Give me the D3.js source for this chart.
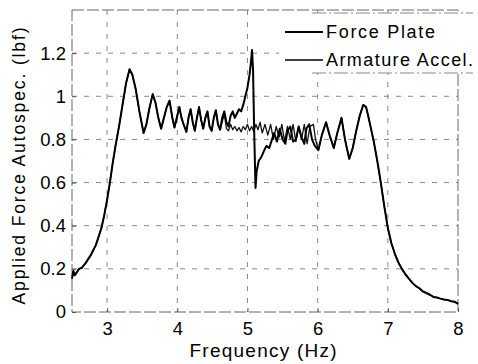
<!DOCTYPE html>
<html>
<head>
<meta charset="utf-8">
<script src="https://cdn.jsdelivr.net/npm/d3@7"></script>
<style>
  html, body { margin: 0; padding: 0; background: #fff; overflow: hidden; }
  svg { display: block; }
  text { font-family: "Liberation Sans", Arial, sans-serif; fill: #000; }
</style>
</head>
<body>
<svg id="chart"></svg>
<script>
// Tick values
const xTicks = [3, 4, 5, 6, 7, 8];
const yTicks = [0, 0.2, 0.4, 0.6, 0.8, 1, 1.2];
const yTickLabels = ["0", "0.2", "0.4", "0.6", "0.8", "1", "1.2"];

// Both curves run together up to about 4.6 Hz
const commonFreq = [2.5, 2.52, 2.54, 2.57, 2.6, 2.64, 2.69, 2.73, 2.77, 2.8, 2.84, 2.88, 2.92, 2.96,
  3.0, 3.04, 3.08, 3.12, 3.17, 3.22, 3.27, 3.32, 3.36, 3.41, 3.46, 3.52, 3.56, 3.6, 3.65, 3.69,
  3.73, 3.77, 3.81, 3.85, 3.89, 3.93, 3.96, 4.0, 4.03, 4.06, 4.09, 4.13, 4.16, 4.19, 4.22, 4.25,
  4.28, 4.31, 4.34, 4.37, 4.4, 4.43, 4.46, 4.49, 4.52, 4.55, 4.58, 4.61];
const commonVals = [0.155, 0.19, 0.17, 0.185, 0.2, 0.205, 0.225, 0.245, 0.265, 0.285, 0.31, 0.35, 0.39, 0.45,
  0.52, 0.6, 0.69, 0.77, 0.86, 0.96, 1.06, 1.125, 1.1, 1.03, 0.93, 0.83, 0.87, 0.94, 1.01, 0.97,
  0.9, 0.85, 0.9, 0.95, 0.98, 0.9, 0.855, 0.91, 0.95, 0.9, 0.87, 0.835, 0.9, 0.94, 0.88, 0.84,
  0.9, 0.95, 0.89, 0.85, 0.9, 0.93, 0.86, 0.84, 0.9, 0.935, 0.87, 0.845];

// Force plate between 4.6 and 6 Hz (spike and dip near 5.1 Hz)
const plateFreq = [4.64, 4.67, 4.7, 4.73, 4.76, 4.79, 4.82, 4.85, 4.88, 4.91, 4.94, 4.97, 5.0, 5.03,
  5.05, 5.065, 5.08, 5.095, 5.115, 5.13, 5.16, 5.2, 5.24, 5.27, 5.31, 5.35, 5.38, 5.42, 5.46, 5.5,
  5.54, 5.57, 5.61, 5.65, 5.69, 5.73, 5.77, 5.81, 5.84, 5.88, 5.92, 5.96];
const plateVals = [0.9, 0.93, 0.88, 0.86, 0.91, 0.93, 0.9, 0.92, 0.94, 0.93, 0.96, 1.0, 1.04, 1.1,
  1.16, 1.215, 1.12, 0.85, 0.575, 0.65, 0.7, 0.72, 0.75, 0.77, 0.76, 0.8, 0.83, 0.79, 0.85, 0.8,
  0.78, 0.84, 0.86, 0.79, 0.8, 0.86, 0.81, 0.78, 0.85, 0.87, 0.8, 0.77];

// Armature acceleration between 4.6 and 6 Hz
const accelFreq = [4.64, 4.67, 4.7, 4.73, 4.76, 4.79, 4.82, 4.85, 4.88, 4.91, 4.94, 4.97, 5.0, 5.03,
  5.06, 5.09, 5.12, 5.15, 5.18, 5.21, 5.25, 5.29, 5.33, 5.37, 5.41, 5.45, 5.49, 5.53, 5.57, 5.61,
  5.65, 5.69, 5.73, 5.77, 5.81, 5.85, 5.89, 5.94, 5.97];
const accelVals = [0.88, 0.92, 0.85, 0.84, 0.87, 0.845, 0.86, 0.84, 0.855, 0.835, 0.86, 0.845, 0.87, 0.84,
  0.86, 0.835, 0.87, 0.845, 0.88, 0.83, 0.87, 0.82, 0.87, 0.8, 0.86, 0.81, 0.87, 0.79, 0.86, 0.8,
  0.87, 0.79, 0.86, 0.8, 0.87, 0.78, 0.86, 0.87, 0.8];

// Both curves again from 6 Hz to the end
const tailFreq = [6.01, 6.06, 6.12, 6.17, 6.23, 6.28, 6.34, 6.39, 6.45, 6.5, 6.55, 6.6, 6.65, 6.69,
  6.72, 6.76, 6.8, 6.85, 6.9, 6.95, 7.0, 7.05, 7.1, 7.15, 7.2, 7.25, 7.3, 7.35, 7.4, 7.45, 7.5,
  7.55, 7.6, 7.65, 7.7, 7.75, 7.8, 7.85, 7.9, 7.95, 8.0];
const tailVals = [0.75, 0.82, 0.88, 0.82, 0.76, 0.83, 0.9, 0.8, 0.71, 0.76, 0.84, 0.91, 0.96, 0.95,
  0.91, 0.85, 0.79, 0.7, 0.6, 0.49, 0.39, 0.32, 0.27, 0.23, 0.2, 0.175, 0.155, 0.135, 0.12, 0.11, 0.095,
  0.088, 0.08, 0.07, 0.067, 0.062, 0.058, 0.056, 0.05, 0.048, 0.038];

const toPoints = (fs, vs) => fs.map((f, i) => ({ f: f, v: vs[i] }));
const plateData = toPoints(commonFreq.concat(plateFreq, tailFreq), commonVals.concat(plateVals, tailVals));
const accelData = toPoints(commonFreq.concat(accelFreq, tailFreq), commonVals.concat(accelVals, tailVals));

const width = 478;
const height = 364;
const margin = { top: 10, right: 20, bottom: 52, left: 72 };
const innerWidth = width - margin.left - margin.right;
const innerHeight = height - margin.top - margin.bottom;

const svg = d3.select("#chart").attr("width", width).attr("height", height);
const g = svg.append("g").attr("transform", `translate(${margin.left},${margin.top})`);

const x = d3.scaleLinear().domain([2.5, 8]).range([0, innerWidth]);
const y = d3.scaleLinear().domain([0, 1.4]).range([innerHeight, 0]);

// Grid lines (dashed, faint like the scan)
g.append("g")
  .selectAll("line")
  .data(xTicks.filter((d) => d < 8))
  .enter()
  .append("line")
  .attr("x1", (d) => x(d))
  .attr("x2", (d) => x(d))
  .attr("y1", 0)
  .attr("y2", innerHeight)
  .attr("stroke", "#888")
  .attr("stroke-dasharray", "5,7");

g.append("g")
  .selectAll("line")
  .data(yTicks.filter((d) => d > 0))
  .enter()
  .append("line")
  .attr("x1", 0)
  .attr("x2", innerWidth)
  .attr("y1", (d) => y(d))
  .attr("y2", (d) => y(d))
  .attr("stroke", "#888")
  .attr("stroke-dasharray", "5,7");

// Axes box
g.append("rect")
  .attr("width", innerWidth)
  .attr("height", innerHeight)
  .attr("fill", "none")
  .attr("stroke", "#666")
  .attr("stroke-dasharray", "12,3");

// Axes (ticks inside, MATLAB style)
const xAxis = g.append("g")
  .attr("transform", `translate(0,${innerHeight})`)
  .call(d3.axisBottom(x).tickValues(xTicks).tickSize(-4).tickPadding(10).tickFormat(d3.format("d")));
const yAxis = g.append("g")
  .call(d3.axisLeft(y).tickValues(yTicks).tickSize(-4).tickPadding(6)
    .tickFormat((d, i) => yTickLabels[i]));
[xAxis, yAxis].forEach((ax) => {
  ax.select(".domain").remove();
  ax.selectAll(".tick line").attr("stroke", "#555");
  ax.selectAll(".tick text")
    .attr("font-size", "18.5px")
    .attr("font-family", "Liberation Sans, Arial, sans-serif")
    .attr("fill", "#000");
});
xAxis.selectAll(".tick text").attr("dy", "0.72em");

// Curves
const line = d3.line().x((d) => x(d.f)).y((d) => y(d.v));

g.append("path")
  .datum(accelData)
  .attr("fill", "none")
  .attr("stroke", "#111")
  .attr("stroke-width", 1.3)
  .attr("stroke-linejoin", "round")
  .attr("d", line);

g.append("path")
  .datum(plateData)
  .attr("fill", "none")
  .attr("stroke", "#000")
  .attr("stroke-width", 2)
  .attr("stroke-linejoin", "round")
  .attr("d", line);

// Axis labels
svg.append("text")
  .attr("x", 263)
  .attr("y", 357)
  .attr("text-anchor", "middle")
  .attr("font-size", "19px")
  .attr("textLength", 147)
  .text("Frequency (Hz)");

svg.append("text")
  .attr("transform", "translate(25,166) rotate(-90)")
  .attr("text-anchor", "middle")
  .attr("font-size", "17.5px")
  .attr("textLength", 277)
  .text("Applied Force Autospec. (lbf)");

// Legend (white box hides the grid behind it)
const legend = svg.append("g");
legend.append("rect")
  .attr("x", 279).attr("y", 13)
  .attr("width", 195).attr("height", 60)
  .attr("fill", "#fff");
legend.append("line")
  .attr("x1", 312).attr("x2", 473).attr("y1", 13).attr("y2", 13)
  .attr("stroke", "#888").attr("stroke-dasharray", "14,3,2,3");
legend.append("line")
  .attr("x1", 312).attr("x2", 473).attr("y1", 73).attr("y2", 73)
  .attr("stroke", "#888").attr("stroke-dasharray", "14,3,2,3");

const legendItems = [
  { label: "Force Plate", w: 2, ty: 38, ly: 32, len: 109 },
  { label: "Armature Accel.", w: 1.3, ty: 65.5, ly: 60, len: 147 },
];
legendItems.forEach((item) => {
  legend.append("line")
    .attr("x1", 285).attr("x2", 323)
    .attr("y1", item.ly).attr("y2", item.ly)
    .attr("stroke", "#000").attr("stroke-width", item.w);
  legend.append("text")
    .attr("x", 326)
    .attr("y", item.ty)
    .attr("font-size", "18px")
    .attr("textLength", item.len)
    .text(item.label);
});
</script>
</body>
</html>
